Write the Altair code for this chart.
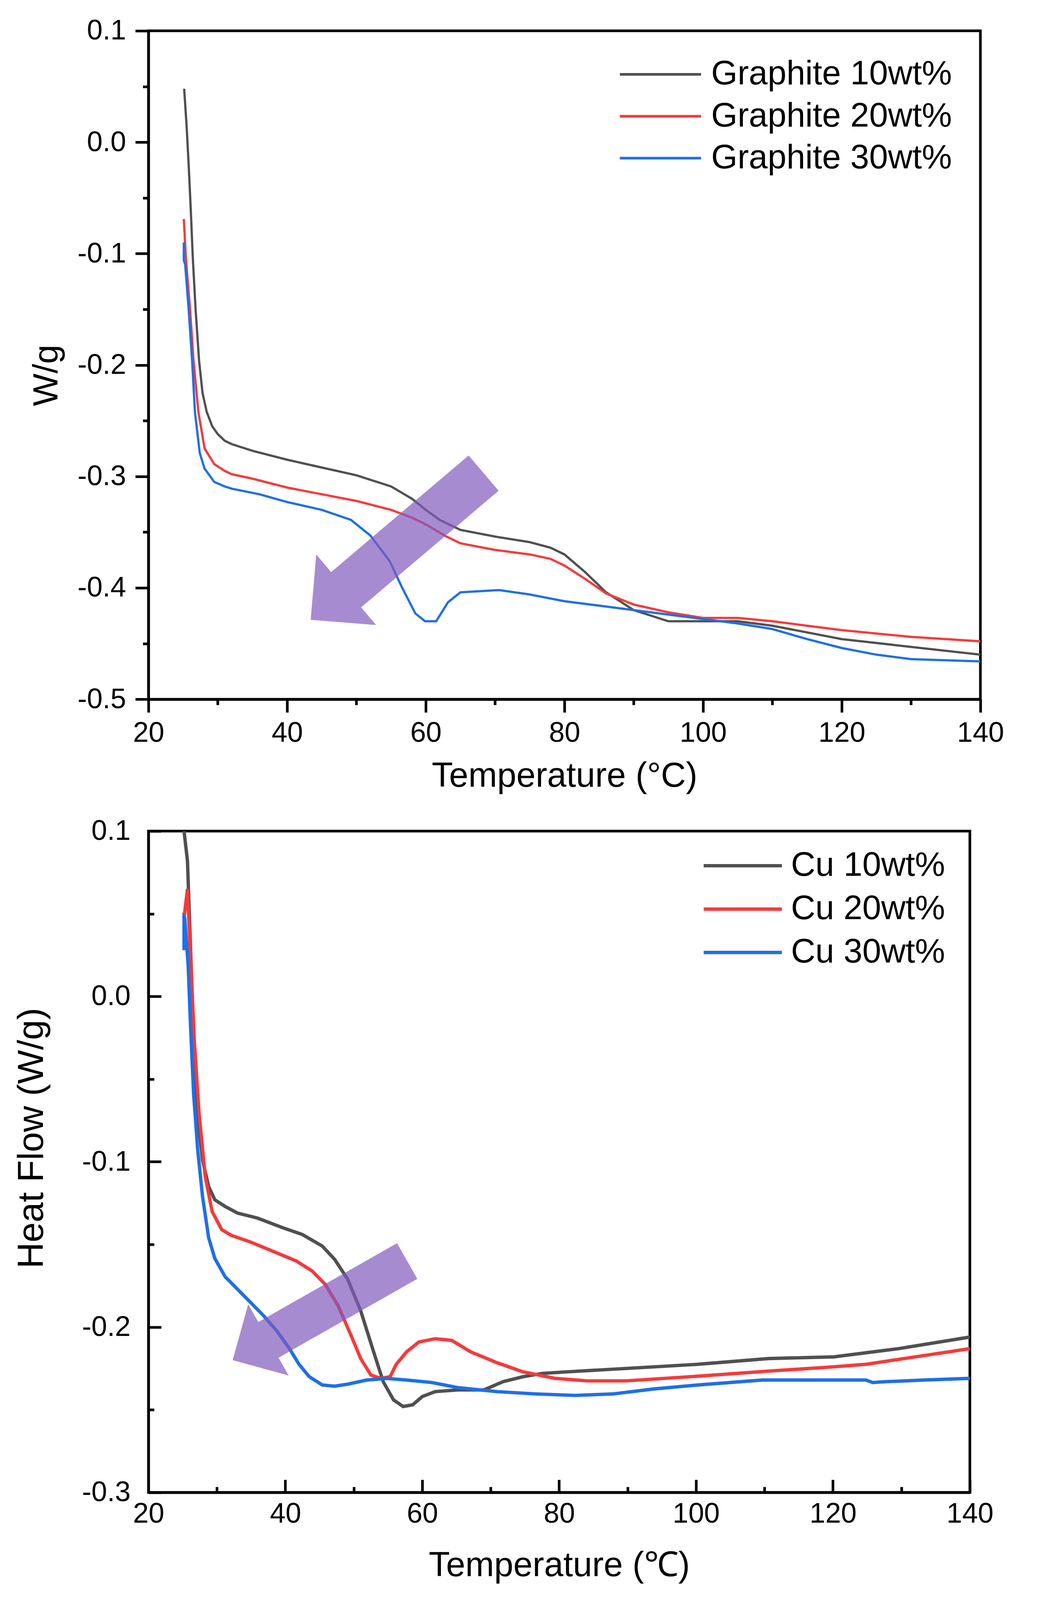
import math

import altair as alt
import pandas as pd

FONT = "Liberation Sans"
COLORS = ["#505050", "#f43b3b", "#1f6fe6"]
ARROW_COLOR = "#825abe"

# page pixels come out ~3.9% larger than css pixels, so sizes are written in
# picture pixels and shrunk once here
S = 1 / 1.039


def px(v):
    return round(v * S, 2)


# ---- top panel: graphite fillers ----
graphite_names = ["Graphite 10wt%", "Graphite 20wt%", "Graphite 30wt%"]

g10_t = [25.15, 25.5, 25.8, 26.1, 26.4, 26.8, 27.3, 27.8, 28.4, 29.2, 30, 31, 32, 35,
         40, 45, 50, 55, 58, 60, 62, 65, 70, 75, 78, 80, 83, 86, 90, 95, 100, 105,
         110, 120, 130, 140]
g10_v = [0.048, 0.015, -0.02, -0.06, -0.104, -0.15, -0.196, -0.225, -0.242, -0.255,
         -0.262, -0.268, -0.271, -0.277, -0.285, -0.292, -0.299, -0.309, -0.32, -0.33,
         -0.339, -0.348, -0.354, -0.359, -0.364, -0.37, -0.386, -0.404, -0.42, -0.43,
         -0.43, -0.43, -0.434, -0.446, -0.453, -0.46]

g20_t = [25.1, 25.4, 26, 26.5, 27.2, 28.1, 29.5, 31, 32, 35, 40, 45, 50, 55, 58, 60,
         63, 65, 70, 75, 78, 80, 83, 86, 90, 95, 100, 105, 110, 115, 120, 130, 140]
g20_v = [-0.069, -0.104, -0.15, -0.196, -0.242, -0.275, -0.289, -0.295, -0.298, -0.302,
         -0.31, -0.316, -0.322, -0.33, -0.337, -0.343, -0.354, -0.36, -0.366, -0.37,
         -0.374, -0.38, -0.392, -0.405, -0.415, -0.422, -0.427, -0.427, -0.43, -0.434,
         -0.438, -0.444, -0.448]

g30_t = [25.1, 25.1, 25.3, 25.8, 26.3, 26.7, 27.4, 28.1, 29.5, 31, 32, 36, 40, 45,
         49.2, 52, 54.8, 56.6, 58.5, 59.9, 61.5, 63.2, 65, 70.6, 75, 80, 85, 90, 95,
         100, 105, 110, 115, 120, 125, 130, 140]
g30_v = [-0.09, -0.106, -0.11, -0.15, -0.196, -0.242, -0.279, -0.293, -0.305, -0.309,
         -0.311, -0.316, -0.323, -0.33, -0.339, -0.353, -0.376, -0.4, -0.423, -0.43,
         -0.43, -0.413, -0.404, -0.402, -0.406, -0.412, -0.416, -0.42, -0.424, -0.428,
         -0.432, -0.437, -0.446, -0.454, -0.46, -0.464, -0.466]

# ---- bottom panel: Cu fillers ----
cu_names = ["Cu 10wt%", "Cu 20wt%", "Cu 30wt%"]

c10_t = [25.2, 25.7, 26.15, 26.6, 27.2, 27.9, 28.8, 29.7, 31.2, 33, 35.9, 39.7, 42.5,
         45.4, 47.2, 49.1, 51, 52.9, 54.3, 55.8, 57.2, 58.6, 60, 61.9, 65.2, 69, 71.8,
         74.7, 77.5, 81.3, 89.8, 100.2, 110.6, 120.1, 129.6, 140]
c10_v = [0.1, 0.082, 0.029, -0.024, -0.071, -0.099, -0.115, -0.123, -0.127, -0.131,
         -0.134, -0.14, -0.144, -0.151, -0.159, -0.171, -0.19, -0.215, -0.233, -0.244,
         -0.248, -0.247, -0.242, -0.239, -0.238, -0.238, -0.233, -0.23, -0.228, -0.227,
         -0.225, -0.2225, -0.219, -0.218, -0.213, -0.206]

c20_t = [25.2, 25.7, 26.2, 26.7, 27.4, 28.3, 29.3, 30.7, 32.1, 34.9, 38.7, 41.6, 43.9,
         45.8, 47.7, 49.6, 51, 52.5, 53.9, 55.3, 56.2, 57.7, 59.5, 61.9, 64.3, 67.1,
         70.9, 74.7, 79.4, 84.1, 89.8, 100.2, 110.6, 120.1, 124.8, 129.6, 135.2, 140]
c20_v = [0.0475, 0.065, 0.019, -0.027, -0.071, -0.109, -0.13, -0.141, -0.1445, -0.1485,
         -0.155, -0.16, -0.166, -0.174, -0.187, -0.205, -0.219, -0.229, -0.231, -0.23,
         -0.2225, -0.215, -0.209, -0.207, -0.208, -0.215, -0.2215, -0.227, -0.231,
         -0.2325, -0.2325, -0.2297, -0.2266, -0.224, -0.2225, -0.2195, -0.216, -0.213]

c30_t = [25.2, 25.2, 25.3, 25.8, 26.15, 26.6, 27.2, 27.9, 28.8, 29.7, 31.2, 33, 34.9,
         36.8, 38.7, 40.6, 42, 43.5, 45.4, 47.2, 49.1, 51.9, 54.8, 57.7, 61.4, 65.2,
         70.9, 76.6, 82.3, 87.9, 93.6, 100.2, 109.7, 117.3, 124.8, 125.8, 127.7, 133.3,
         140]
c30_v = [0.028, 0.048, 0.0475, 0.019, -0.018, -0.059, -0.093, -0.121, -0.146, -0.1585,
         -0.1695, -0.177, -0.185, -0.193, -0.202, -0.213, -0.2225, -0.23, -0.235,
         -0.2357, -0.2345, -0.232, -0.231, -0.232, -0.2335, -0.2366, -0.239, -0.2404,
         -0.2413, -0.2404, -0.2375, -0.235, -0.232, -0.232, -0.232, -0.2335, -0.233,
         -0.232, -0.231]

# arrows: [tail, tip]
top_arrow_t = [68.35, 43.4]
top_arrow_v = [-0.297, -0.4287]
bot_arrow_t = [57.8, 32.3]
bot_arrow_v = [-0.160, -0.220]

x_ticks = list(range(20, 141, 10))
top_y_ticks = [round(-0.5 + 0.05 * k, 2) for k in range(13)]
bot_y_ticks = [round(-0.3 + 0.05 * k, 2) for k in range(9)]

TOP_W, TOP_H = px(2213), px(1778)
BOT_W, BOT_H = px(2185), px(1759)

MAJOR_X = "datum.value % 20 === 0"
MAJOR_Y = "abs(datum.value * 10 - round(datum.value * 10)) < 0.001"
Y_LABEL = f"{MAJOR_Y} ? replace(datum.label, '\u2212', '-') : ''"
X_LABEL = f"{MAJOR_X} ? datum.label : ''"

ARROW_SHAPE = ("M0,-1L0.408,-0.59L0.204,-0.59L0.204,1L-0.204,1"
               "L-0.204,-0.59L-0.408,-0.59Z")


def long_table(names, ts, vs):
    rows = []
    for name, t, v in zip(names, ts, vs):
        for i, (a, b) in enumerate(zip(t, v)):
            rows.append({"series": name, "T": a, "v": b, "i": i})
    return pd.DataFrame(rows)


def arrow_layer(ts, vs, w, h, ydom):
    # size/angle of the arrow symbol from its two ends in pixel space
    dx = (ts[1] - ts[0]) * w / 120
    dy = -(vs[1] - vs[0]) * h / (ydom[1] - ydom[0])
    length = math.hypot(dx, dy)
    angle = math.degrees(math.atan2(dx / length, -dy / length)) % 360
    center = pd.DataFrame({"T": [(ts[0] + ts[1]) / 2], "v": [(vs[0] + vs[1]) / 2]})
    return alt.Chart(center).mark_point(
        shape=ARROW_SHAPE, filled=True, size=length ** 2, angle=angle,
        color=ARROW_COLOR, opacity=0.7,
    ).encode(x="T:Q", y="v:Q")


def line_layer(df, names, ydom, yticks, xtitle, ytitle, ticks, pads, line_w, leg,
               ytitle_y, ytitle_size):
    x_tick, y_tick = ticks
    return alt.Chart(df).mark_line(strokeWidth=px(line_w), clip=True).encode(
        x=alt.X("T:Q", scale=alt.Scale(domain=[20, 140], nice=False),
                axis=alt.Axis(title=xtitle, values=x_ticks, labelExpr=X_LABEL,
                              tickSize=x_tick, labelPadding=px(pads[0]),
                              titlePadding=px(pads[1]))),
        y=alt.Y("v:Q", scale=alt.Scale(domain=ydom, nice=False, zero=False),
                axis=alt.Axis(title=ytitle, values=yticks, format=".1f",
                              labelExpr=Y_LABEL, tickSize=y_tick,
                              labelPadding=px(pads[2]), titlePadding=px(pads[3]),
                              titleY=px(ytitle_y), titleFontSize=px(ytitle_size))),
        color=alt.Color("series:N", scale=alt.Scale(domain=names, range=COLORS),
                        legend=leg),
        order="i:Q",
    )


top_df = long_table(graphite_names, [g10_t, g20_t, g30_t], [g10_v, g20_v, g30_v])
bot_df = long_table(cu_names, [c10_t, c20_t, c30_t], [c10_v, c20_v, c30_v])

top_legend = alt.Legend(
    title=None, orient="none", legendX=px(1317), legendY=px(71), padding=0,
    symbolType="M-4,0L4,0", symbolSize=px(54) ** 2, symbolStrokeWidth=px(7),
    labelFontSize=px(90), labelOffset=px(90), rowPadding=px(21), labelLimit=0,
)
bot_legend = alt.Legend(
    title=None, orient="none", legendX=px(1536), legendY=px(47), padding=0,
    symbolType="M-4,0L4,0", symbolSize=px(52) ** 2, symbolStrokeWidth=px(9),
    labelFontSize=px(90), labelOffset=px(83), rowPadding=px(25), labelLimit=0,
)

out_ticks = (
    {"condition": {"test": MAJOR_X, "value": px(35)}, "value": px(15)},
    {"condition": {"test": MAJOR_Y, "value": px(35)}, "value": px(15)},
)
in_ticks = (
    {"condition": {"test": MAJOR_X, "expr": f"-{px(34)}"}, "expr": f"-{px(15)}"},
    {"condition": {"test": MAJOR_Y, "expr": f"-{px(34)}"}, "expr": f"-{px(15)}"},
)

top_lines = line_layer(top_df, graphite_names, [-0.5, 0.1], top_y_ticks,
                       "Temperature (°C)", "W/g", out_ticks, (18, 32, 25, 34), 6,
                       top_legend, 916, 92)
bot_lines = line_layer(bot_df, cu_names, [-0.3, 0.1], bot_y_ticks,
                       "Temperature (\u2103)", "Heat Flow (W/g)", in_ticks,
                       (55, 35, 82, 84), 9, bot_legend, 816, 96)

top = alt.layer(
    top_lines, arrow_layer(top_arrow_t, top_arrow_v, TOP_W, TOP_H, [-0.5, 0.1])
).properties(width=TOP_W, height=TOP_H)
bottom = alt.layer(
    bot_lines, arrow_layer(bot_arrow_t, bot_arrow_v, BOT_W, BOT_H, [-0.3, 0.1])
).properties(width=BOT_W, height=BOT_H)

chart = (
    alt.vconcat(top, bottom, spacing=px(55))
    .resolve_scale(color="independent")
    .resolve_legend(color="independent")
    .configure(font=FONT,
               padding={"left": px(25), "top": px(32), "right": 5, "bottom": 5},
               background="white")
    .configure_view(stroke="black", strokeWidth=px(7))
    .configure_axis(
        grid=False, domainColor="black", domainWidth=px(7), tickColor="black",
        tickWidth=px(7), labelFont=FONT, labelFontSize=px(75), labelColor="black",
        labelFlush=False, labelOverlap=False, titleFont=FONT, titleFontSize=px(92),
        titleFontWeight="normal", titleColor="black",
    )
    .configure_legend(labelFont=FONT, labelColor="black")
)

chart.save("out.html", embed_options={"renderer": "svg", "actions": False})
